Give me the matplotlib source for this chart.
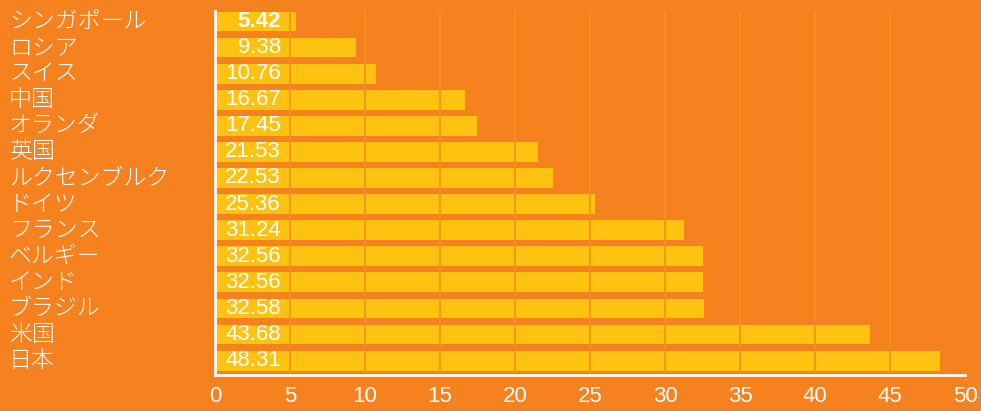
import matplotlib.pyplot as plt
from matplotlib.transforms import blended_transform_factory

countries = ['シンガポール', 'ロシア', 'スイス', '中国', 'オランダ', '英国',
             'ルクセンブルク', 'ドイツ', 'フランス', 'ベルギー', 'インド',
             'ブラジル', '米国', '日本']
values = [5.42, 9.38, 10.76, 16.67, 17.45, 21.53, 22.53, 25.36, 31.24,
          32.56, 32.56, 32.58, 43.68, 48.31]
x_ticks = list(range(0, 55, 5))

bg = '#F5821F'
bar_color = '#FEC311'
grid_color = '#F7901E'

plt.rcParams['font.family'] = ['Liberation Sans', 'Noto Sans CJK JP', 'DejaVu Sans']

fig = plt.figure(figsize=(9.81, 4.11), dpi=100, facecolor=bg)
ax = fig.add_axes([215 / 981, 36 / 411, 750 / 981, 364 / 411])
ax.set_facecolor(bg)

pos = list(range(len(countries)))
ax.barh(pos, values, height=0.76, color=bar_color, zorder=1)

# grid lines sit on top of the bars
for t in x_ticks[1:-1]:
    ax.axvline(t, color=grid_color, lw=1.2, zorder=2)

ax.set_xlim(0, 50)
ax.set_ylim(13.55, -0.4)
ax.set_xticks(x_ticks)
ax.set_yticks([])
ax.tick_params(axis='x', length=0, pad=8, labelsize=16, labelcolor='white')

for side in ['top', 'right']:
    ax.spines[side].set_visible(False)
for side in ['left', 'bottom']:
    ax.spines[side].set_color('white')
    ax.spines[side].set_linewidth(2)
    ax.spines[side].set_zorder(3)

# value labels inside the bars
for i, v in enumerate(values):
    ax.text(4.4, i, f'{v:.2f}', ha='right', va='center', color='white',
            fontsize=16, fontweight='bold' if i == 0 else 'normal', zorder=4)

# country names on the far left
trans = blended_transform_factory(fig.transFigure, ax.transData)
for i, name in enumerate(countries):
    ax.text(9 / 981, i, name, transform=trans, ha='left', va='center',
            color='white', fontsize=16.5, fontweight='light',
            family=['Noto Sans CJK JP', 'DejaVu Sans'])

fig.savefig('out.png', dpi=100, facecolor=bg)
